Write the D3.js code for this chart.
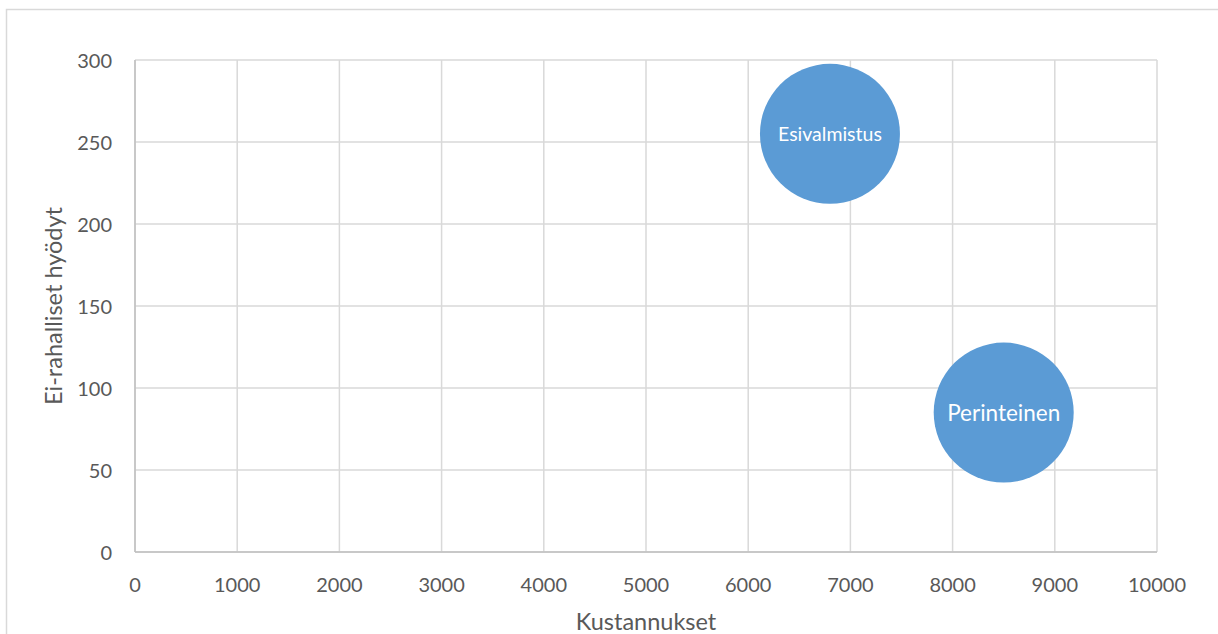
<!DOCTYPE html>
<html><head><meta charset="utf-8">
<script src="https://cdn.jsdelivr.net/npm/d3@7"></script>
<style>body{margin:0;background:#fff;}svg{display:block;font-family:Lato,"Open Sans",sans-serif;}</style>
</head><body>
<svg id="c" width="1218" height="634"></svg>
<script>
const names = ["Esivalmistus", "Perinteinen"];
const costs = [6800, 8500];
const benefits = [255, 85];
const sizes = [1, 1];
const labelSizes = [19.5, 22.5];
const xTicks = [0,1000,2000,3000,4000,5000,6000,7000,8000,9000,10000];
const yTicks = [0,50,100,150,200,250,300];

const svg = d3.select("#c");
svg.append("rect").attr("x",6.5).attr("y",9.5).attr("width",1230).attr("height",640)
  .attr("fill","#fff").attr("stroke","#d9d9d9").attr("stroke-width",1.5);

const L=135, R=1157, T=60, B=552;
const x = d3.scaleLinear().domain([0,10000]).range([L,R]);
const y = d3.scaleLinear().domain([0,300]).range([B,T]);
const r = d3.scaleSqrt().domain([0,1]).range([0,70]);

const g = svg.append("g");
g.selectAll(".vg").data(xTicks).join("line").attr("x1",d=>x(d)).attr("x2",d=>x(d))
  .attr("y1",T).attr("y2",B).attr("stroke","#d9d9d9").attr("stroke-width",1.5);
g.selectAll(".hg").data(yTicks).join("line").attr("x1",L).attr("x2",R)
  .attr("y1",d=>y(d)).attr("y2",d=>y(d)).attr("stroke","#d9d9d9").attr("stroke-width",1.5);
g.append("line").attr("x1",L).attr("x2",R).attr("y1",B).attr("y2",B).attr("stroke","#bfbfbf").attr("stroke-width",1.5);
g.append("line").attr("x1",L).attr("x2",L).attr("y1",T).attr("y2",B).attr("stroke","#bfbfbf").attr("stroke-width",1.5);

g.selectAll(".xt").data(xTicks).join("text").attr("x",d=>x(d)).attr("y",592)
  .attr("text-anchor","middle").attr("font-size",20).attr("fill","#595959").text(d=>d);
g.selectAll(".yt").data(yTicks).join("text").attr("x",112).attr("y",d=>y(d)+7.5)
  .attr("text-anchor","end").attr("font-size",20).attr("fill","#595959").text(d=>d);

const data = names.map((n,i)=>({n, c:costs[i], b:benefits[i], s:sizes[i], fs:labelSizes[i]}));
g.selectAll(".bub").data(data).join("circle").attr("cx",d=>x(d.c)).attr("cy",d=>y(d.b))
  .attr("r",d=>r(d.s)).attr("fill","#5B9BD5");
g.selectAll(".bl").data(data).join("text").attr("x",d=>x(d.c)).attr("y",d=>y(d.b)+d.fs*0.36)
  .attr("text-anchor","middle").attr("font-size",d=>d.fs).attr("fill","#fff").text(d=>d.n);

svg.append("text").attr("x",646).attr("y",630).attr("text-anchor","middle")
  .attr("font-size",23.5).attr("fill","#595959").text("Kustannukset");
svg.append("text").attr("transform","translate(62,306) rotate(-90)").attr("text-anchor","middle")
  .attr("font-size",23.5).attr("fill","#595959").text("Ei-rahalliset hyödyt");
</script>
</body></html>
